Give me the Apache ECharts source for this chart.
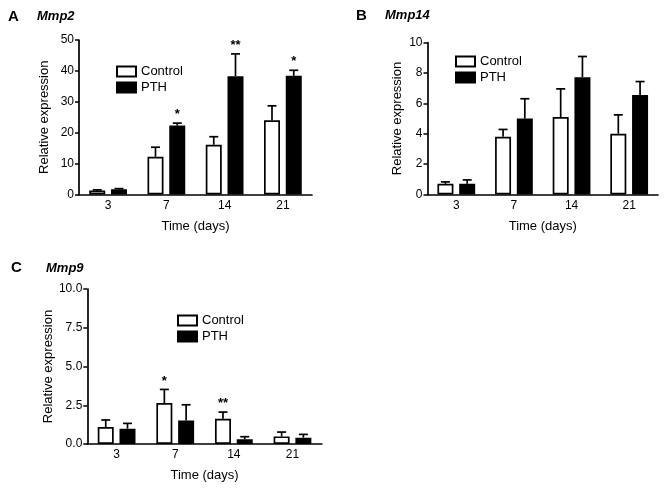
<!DOCTYPE html>
<html>
<head>
<meta charset="utf-8">
<script src="https://cdn.jsdelivr.net/npm/echarts@6/dist/echarts.min.js"></script>
<style>
html,body{margin:0;padding:0;background:#fff;}
#chart{width:670px;height:493px;}
</style>
</head>
<body>
<div id="chart"></div>
<script>
// ---- Data ----
const categories = ['3', '7', '14', '21'];

const mmp2Control = [1.3, 12.2, 16.1, 24.0];
const mmp2ControlErr = [0.2, 3.1, 2.6, 4.7];
const mmp2PTH = [1.7, 22.3, 38.3, 38.4];
const mmp2PTHErr = [0.2, 0.8, 7.2, 1.8];
const mmp2ControlSig = ['', '', '', ''];
const mmp2PTHSig = ['', '*', '**', '*'];

const mmp14Control = [0.70, 3.80, 5.10, 4.00];
const mmp14ControlErr = [0.13, 0.48, 1.85, 1.24];
const mmp14PTH = [0.70, 5.00, 7.72, 6.54];
const mmp14PTHErr = [0.26, 1.30, 1.36, 0.89];
const mmp14ControlSig = ['', '', '', ''];
const mmp14PTHSig = ['', '', '', ''];

const mmp9Control = [1.09, 2.64, 1.63, 0.49];
const mmp9ControlErr = [0.46, 0.88, 0.43, 0.28];
const mmp9PTH = [0.99, 1.52, 0.30, 0.41];
const mmp9PTHErr = [0.34, 1.01, 0.17, 0.21];
const mmp9ControlSig = ['', '*', '**', ''];
const mmp9PTHSig = ['', '', '', ''];

const yTicksA = {min: 0, max: 50, interval: 10};
const yTicksB = {min: 0, max: 10, interval: 2};
const yTicksC = {min: 0, max: 10, interval: 2.5};

// ---- Styles ----
const FONT = 'Liberation Sans, Arial, Helvetica, sans-serif';
const BAR_W = 16;
const BAR_GAP = '36%';
const OFFSET = (BAR_W + BAR_W * 0.36) / 2;

const chart = echarts.init(document.getElementById('chart'), null, {renderer: 'canvas'});

function errSeries(name, idx, values, errs, sigs, side) {
  return {
    name: name,
    type: 'custom',
    xAxisIndex: idx,
    yAxisIndex: idx,
    z: 10,
    silent: true,
    data: values.map((v, i) => [i, v, errs[i]]),
    renderItem: function (params, api) {
      const base = api.coord([api.value(0), api.value(1)]);
      const top = api.coord([api.value(0), api.value(1) + api.value(2)]);
      const cx = base[0] + side * OFFSET;
      const children = [
        {type: 'line', shape: {x1: cx, y1: base[1], x2: cx, y2: top[1]},
         style: {stroke: '#000', lineWidth: 1.7}},
        {type: 'line', shape: {x1: cx - 4.5, y1: top[1], x2: cx + 4.5, y2: top[1]},
         style: {stroke: '#000', lineWidth: 1.7}}
      ];
      const s = sigs[params.dataIndex];
      if (s) {
        children.push({type: 'text', style: {
          text: s, x: cx, y: top[1] - 2, align: 'center', verticalAlign: 'bottom',
          font: 'bold 13px ' + FONT, fill: '#000'}});
      }
      return {type: 'group', children: children};
    }
  };
}

function barSeries(name, idx, values, fill) {
  return {
    name: name,
    type: 'bar',
    xAxisIndex: idx,
    yAxisIndex: idx,
    data: values,
    barWidth: BAR_W,
    barGap: BAR_GAP,
    itemStyle: {color: fill, borderColor: '#000', borderWidth: 1.7},
    emphasis: {disabled: true},
    animation: false
  };
}

function xAxis(idx) {
  return {
    type: 'category',
    gridIndex: idx,
    data: categories,
    name: 'Time (days)',
    nameLocation: 'middle',
    nameGap: 25,
    nameTextStyle: {fontFamily: FONT, fontSize: 13, color: '#000'},
    axisLine: {lineStyle: {color: '#000', width: 1.7}},
    axisTick: {alignWithLabel: true, length: 4, lineStyle: {color: '#000', width: 1.5}},
    axisLabel: {fontFamily: FONT, fontSize: 12, color: '#000', margin: 5},
    splitLine: {show: false}
  };
}

function yAxis(idx, ticks, gap, fmt) {
  return {
    type: 'value',
    gridIndex: idx,
    min: ticks.min, max: ticks.max, interval: ticks.interval,
    name: 'Relative expression',
    nameLocation: 'middle',
    nameRotate: 90,
    nameGap: gap,
    nameTextStyle: {fontFamily: FONT, fontSize: 13, color: '#000'},
    axisLine: {show: true, lineStyle: {color: '#000', width: 1.7}},
    axisTick: {show: true, length: 4, lineStyle: {color: '#000', width: 1.5}},
    axisLabel: {fontFamily: FONT, fontSize: 12, color: '#000', margin: 5,
                formatter: fmt},
    splitLine: {show: false}
  };
}

function legend(left, top) {
  return {
    data: ['Control', 'PTH'],
    orient: 'vertical',
    left: left, top: top,
    padding: 0,
    icon: 'rect',
    itemWidth: 19, itemHeight: 10,
    itemGap: 3,
    selectedMode: false,
    textStyle: {fontFamily: FONT, fontSize: 13, color: '#000'}
  };
}

const option = {
  animation: false,
  backgroundColor: '#fff',
  title: [
    {text: 'A', left: 8, top: 9, padding: 0, textStyle: {fontFamily: FONT, fontSize: 15, fontWeight: 'bold', color: '#000'}},
    {text: 'Mmp2', left: 37, top: 10, padding: 0, textStyle: {fontFamily: FONT, fontSize: 13, fontWeight: 'bold', fontStyle: 'italic', color: '#000'}},
    {text: 'B', left: 356, top: 8, padding: 0, textStyle: {fontFamily: FONT, fontSize: 15, fontWeight: 'bold', color: '#000'}},
    {text: 'Mmp14', left: 385, top: 9, padding: 0, textStyle: {fontFamily: FONT, fontSize: 13, fontWeight: 'bold', fontStyle: 'italic', color: '#000'}},
    {text: 'C', left: 11, top: 260, padding: 0, textStyle: {fontFamily: FONT, fontSize: 15, fontWeight: 'bold', color: '#000'}},
    {text: 'Mmp9', left: 46, top: 262, padding: 0, textStyle: {fontFamily: FONT, fontSize: 13, fontWeight: 'bold', fontStyle: 'italic', color: '#000'}}
  ],
  legend: [legend(116, 65), legend(455, 55), legend(177, 314)],
  grid: [
    {left: 79, top: 40, width: 233, height: 154.5},
    {left: 427.5, top: 42.5, width: 230.5, height: 152},
    {left: 87.3, top: 289, width: 234.5, height: 155}
  ],
  xAxis: [xAxis(0), xAxis(1), xAxis(2)],
  yAxis: [
    yAxis(0, yTicksA, 28, v => String(v)),
    yAxis(1, yTicksB, 24, v => String(v)),
    yAxis(2, yTicksC, 27, v => v.toFixed(1))
  ],
  series: [
    barSeries('Control', 0, mmp2Control, '#fff'),
    barSeries('PTH', 0, mmp2PTH, '#000'),
    errSeries('errA1', 0, mmp2Control, mmp2ControlErr, mmp2ControlSig, -1),
    errSeries('errA2', 0, mmp2PTH, mmp2PTHErr, mmp2PTHSig, 1),
    barSeries('Control', 1, mmp14Control, '#fff'),
    barSeries('PTH', 1, mmp14PTH, '#000'),
    errSeries('errB1', 1, mmp14Control, mmp14ControlErr, mmp14ControlSig, -1),
    errSeries('errB2', 1, mmp14PTH, mmp14PTHErr, mmp14PTHSig, 1),
    barSeries('Control', 2, mmp9Control, '#fff'),
    barSeries('PTH', 2, mmp9PTH, '#000'),
    errSeries('errC1', 2, mmp9Control, mmp9ControlErr, mmp9ControlSig, -1),
    errSeries('errC2', 2, mmp9PTH, mmp9PTHErr, mmp9PTHSig, 1)
  ]
};
chart.setOption(option);
</script>
</body>
</html>
